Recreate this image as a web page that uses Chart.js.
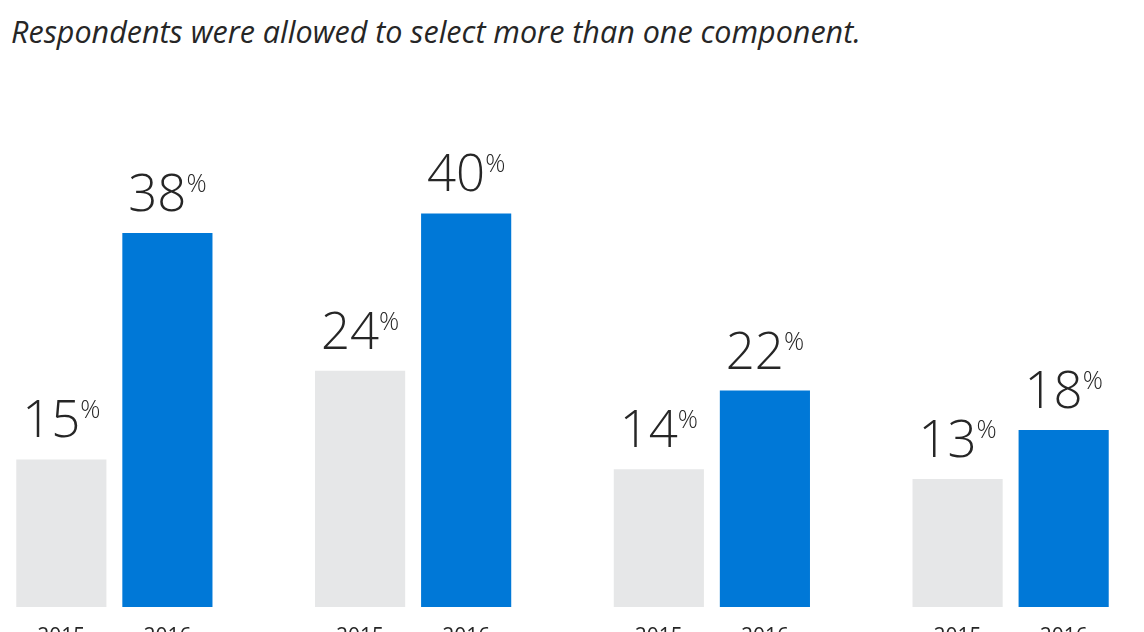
<!DOCTYPE html>
<html>
<head>
<meta charset="utf-8">
<script src="https://cdn.jsdelivr.net/npm/chart.js@4.4.1/dist/chart.umd.min.js"></script>
<style>
  html, body { margin: 0; padding: 0; background: #fff; overflow: hidden; width: 1144px; height: 632px; }
  .subtitle {
    position: absolute; left: 11px; top: 16px;
    font-family: "Open Sans", sans-serif; font-style: italic; font-size: 30.5px;
    color: #262626; white-space: nowrap; line-height: 1;
  }
  .wrap { position: absolute; left: -35px; top: 0; width: 1195px; height: 660px; }
</style>
</head>
<body>
<div class="subtitle">Respondents were allowed to select more than one component.</div>
<div class="wrap"><canvas id="myChart"></canvas></div>
<script>
  // chart data
  var categories = ["Group 1", "Group 2", "Group 3", "Group 4"];
  var years = ["2015", "2016"];
  var values2015 = [15, 24, 14, 13];
  var values2016 = [38, 40, 22, 18];

  var numFont = '300 51px "Open Sans", sans-serif';
  var pctFont = '300 25px "Open Sans", sans-serif';
  var tickFont = '400 21px "Open Sans", sans-serif';

  // big number with small % on top, plus year under each bar
  var barLabels = {
    id: "barLabels",
    afterDatasetsDraw: function (chart) {
      var c = chart.ctx;
      c.save();
      chart.data.datasets.forEach(function (ds, di) {
        var meta = chart.getDatasetMeta(di);
        meta.data.forEach(function (bar, i) {
          var num = String(ds.data[i]);
          c.font = numFont;
          var w1 = c.measureText(num).width;
          c.font = pctFont;
          var w2 = c.measureText("%").width;
          var x0 = bar.x - (w1 + w2) / 2;
          var base = bar.y - 22;
          c.fillStyle = "#262626";
          c.textBaseline = "alphabetic";
          c.textAlign = "left";
          c.font = numFont;
          c.fillText(num, x0, base);
          c.font = pctFont;
          c.fillText("%", x0 + w1, base - 19);

          c.font = tickFont;
          c.textAlign = "center";
          c.textBaseline = "top";
          c.fillText(ds.label, bar.x, chart.chartArea.bottom + 20);
        });
      });
      c.restore();
    }
  };

  var ctx = document.getElementById("myChart");
  var myChart = new Chart(ctx, {
    type: "bar",
    data: {
      labels: categories,
      datasets: [
        { label: years[0], data: values2015, backgroundColor: "#e6e7e8", categoryPercentage: 0.71, barPercentage: 0.85 },
        { label: years[1], data: values2016, backgroundColor: "#0078d7", categoryPercentage: 0.71, barPercentage: 0.85 }
      ]
    },
    options: {
      responsive: true,
      maintainAspectRatio: false,
      animation: false,
      layout: { padding: { top: 115, bottom: 53, left: 0, right: 0 } },
      plugins: { legend: { display: false }, tooltip: { enabled: false } },
      scales: {
        x: { display: false },
        y: { display: false, min: 0, max: 50 }
      }
    },
    plugins: [barLabels]
  });
</script>
</body>
</html>
